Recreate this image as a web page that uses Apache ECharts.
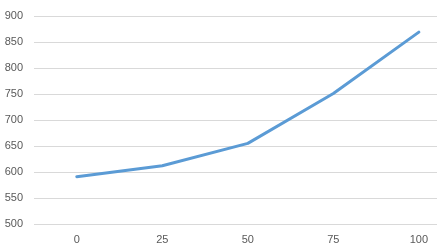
<!DOCTYPE html>
<html>
<head>
<meta charset="utf-8">
<script src="https://cdn.jsdelivr.net/npm/echarts@6/dist/echarts.min.js"></script>
<style>html,body{margin:0;padding:0;background:#fff}#c{width:437px;height:250px}</style>
</head>
<body>
<div id="c"></div>
<script>
var categories = [0, 25, 50, 75, 100];
var values = [591, 612, 655, 751, 869];
var yMin = 500, yMax = 900, yStep = 50;

var chart = echarts.init(document.getElementById('c'), null, {renderer: 'canvas'});
chart.setOption({
  animation: false,
  grid: {left: 34, right: 0, top: 16, bottom: 26, containLabel: false},
  xAxis: {
    type: 'value',
    min: -12.5,
    max: 105.3,
    axisLine: {show: false},
    axisTick: {show: false},
    splitLine: {show: false},
    axisLabel: {
      customValues: categories,
      color: '#595959', fontFamily: 'Liberation Sans', fontSize: 11, margin: 10
    }
  },
  yAxis: {
    type: 'value',
    min: yMin, max: yMax, interval: yStep,
    axisLine: {show: false},
    axisTick: {show: false},
    splitLine: {lineStyle: {color: '#d9d9d9', width: 1}},
    axisLabel: {color: '#595959', fontFamily: 'Liberation Sans', fontSize: 11, margin: 11}
  },
  series: [{
    type: 'line',
    data: categories.map(function (c, i) { return [c, values[i]]; }),
    symbol: 'none',
    lineStyle: {color: '#5b9bd5', width: 3, cap: 'round', join: 'round'}
  }]
});
</script>
</body>
</html>
